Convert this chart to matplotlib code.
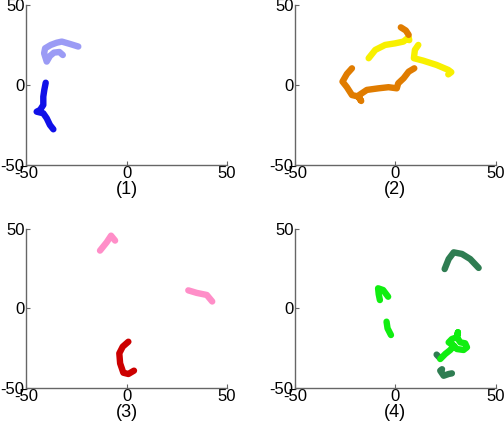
import matplotlib
matplotlib.use("Agg")
import matplotlib.pyplot as plt

plt.rcParams['font.family'] = ['Liberation Sans', 'DejaVu Sans']

# ---- data ----
p1_light_x = [-24.0, -28.1, -32.2, -34.7, -37.7, -40.5, -41.0, -39.7, -38.1, -36.1, -33.4, -31.7]
p1_light_y = [24.0, 25.6, 27.1, 26.4, 25.0, 22.9, 19.8, 14.6, 18.1, 20.2, 20.6, 18.7]
p1_blue_x = [-40.2, -40.9, -41.4, -41.4, -43.0, -44.7, -41.4, -39.7, -38.1, -36.4]
p1_blue_y = [1.4, -3.1, -7.3, -12.5, -15.6, -16.7, -17.7, -20.8, -25.0, -27.7]

p2_yel1_x = [-13.3, -10.0, -5.1, -0.1, 4.0, 6.6, 6.9]
p2_yel1_y = [16.7, 21.9, 25.0, 26.0, 27.1, 29.8, 28.0]
p2_yel2_x = [11.4, 9.7, 9.2, 13.8, 20.5, 26.3, 27.8, 26.3]
p2_yel2_y = [25.0, 21.9, 16.7, 15.2, 12.5, 9.4, 8.0, 6.6]
p2_org1_x = [2.7, 5.2, 6.6]
p2_org1_y = [36.0, 34.0, 31.3]
p2_org2_x = [-21.6, -24.1, -26.3, -24.1, -21.6, -18.3, -17.0, -18.7, -14.2, -8.4, -3.4, 0.7, 1.4, 4.1, 6.6, 9.4]
p2_org2_y = [10.4, 6.9, 2.1, -1.4, -6.3, -7.3, -10.0, -6.9, -3.1, -2.1, -1.4, -2.1, 1.0, 4.2, 8.3, 10.4]

p3_pink1_x = [-13.2, -9.9, -7.7, -5.7]
p3_pink1_y = [36.4, 41.6, 45.8, 42.7]
p3_pink2_x = [30.7, 34.9, 39.9, 42.6]
p3_pink2_y = [11.4, 9.8, 8.5, 4.4]
p3_red_x = [0.9, -1.9, -3.6, -3.2, -1.6, 0.9, 3.7]
p3_red_y = [-20.9, -24.0, -28.2, -34.5, -40.4, -41.2, -39.1]

p4_dark1_x = [24.5, 26.5, 29.0, 33.1, 37.2, 41.4]
p4_dark1_y = [24.8, 31.1, 35.3, 34.3, 31.1, 25.5]
p4_dark2_x = [20.5, 22.0]
p4_dark2_y = [-29.0, -31.0]
p4_dark3_x = [23.2, 22.3, 24.0, 26.5, 28.1]
p4_dark3_y = [-38.2, -39.1, -42.3, -41.2, -40.8]
p4_g1_x = [-7.7, -8.3, -8.6, -6.1, -3.6]
p4_g1_y = [5.3, 9.0, 12.7, 11.6, 7.4]
p4_g2_x = [-4.4, -3.9, -2.2]
p4_g2_y = [-8.3, -12.5, -16.7]
p4_g3_x = [22.3, 24.8, 27.3, 29.0, 26.5, 28.1, 30.6, 31.1, 30.6, 32.3, 34.7, 35.6, 33.9, 30.6, 29.0]
p4_g3_y = [-31.8, -28.6, -26.1, -23.4, -21.3, -19.2, -18.1, -15.0, -18.1, -21.3, -21.9, -24.4, -26.1, -25.5, -23.4]

panel_labels = ["(1)", "(2)", "(3)", "(4)"]
ticks = [-50, 0, 50]

LIGHTBLUE = "#9b9bf5"
BLUE = "#1010e8"
YELLOW = "#f8f000"
ORANGE = "#e07c00"
PINK = "#ff8ec8"
RED = "#cc0000"
DKGREEN = "#2f7d52"
GREEN = "#10ee10"

panels = [
    [(p1_light_x, p1_light_y, LIGHTBLUE), (p1_blue_x, p1_blue_y, BLUE)],
    [(p2_yel1_x, p2_yel1_y, YELLOW), (p2_yel2_x, p2_yel2_y, YELLOW),
     (p2_org1_x, p2_org1_y, ORANGE), (p2_org2_x, p2_org2_y, ORANGE)],
    [(p3_pink1_x, p3_pink1_y, PINK), (p3_pink2_x, p3_pink2_y, PINK),
     (p3_red_x, p3_red_y, RED)],
    [(p4_dark1_x, p4_dark1_y, DKGREEN), (p4_dark2_x, p4_dark2_y, DKGREEN),
     (p4_dark3_x, p4_dark3_y, DKGREEN), (p4_g1_x, p4_g1_y, GREEN),
     (p4_g2_x, p4_g2_y, GREEN), (p4_g3_x, p4_g3_y, GREEN)],
]

fig = plt.figure(figsize=(5.04, 4.28), dpi=100)
positions = [
    [0.0516, 0.6145, 0.399, 0.374],
    [0.585, 0.6145, 0.399, 0.374],
    [0.0516, 0.0935, 0.399, 0.3715],
    [0.585, 0.0935, 0.399, 0.3715],
]

for pos, segs, lab in zip(positions, panels, panel_labels):
    ax = fig.add_axes(pos)
    for xs, ys, c in segs:
        ax.plot(xs, ys, color=c, lw=4.6, solid_capstyle="round",
                solid_joinstyle="round")
    ax.set_xlim(-50, 50)
    ax.set_ylim(-50, 50)
    ax.set_xticks(ticks)
    ax.set_yticks(ticks)
    ax.set_xticklabels([str(t) for t in ticks])
    ax.set_yticklabels([str(t) for t in ticks])
    for s in ["top", "right"]:
        ax.spines[s].set_visible(False)
    for s in ["left", "bottom"]:
        ax.spines[s].set_color("#666666")
        ax.spines[s].set_linewidth(1.0)
    ax.tick_params(direction="in", length=3, color="#666666", labelsize=12,
                   pad=1, labelcolor="black")
    ax.set_xlabel(lab, fontsize=13, labelpad=0)

fig.savefig("out.png", dpi=100, facecolor="white")
